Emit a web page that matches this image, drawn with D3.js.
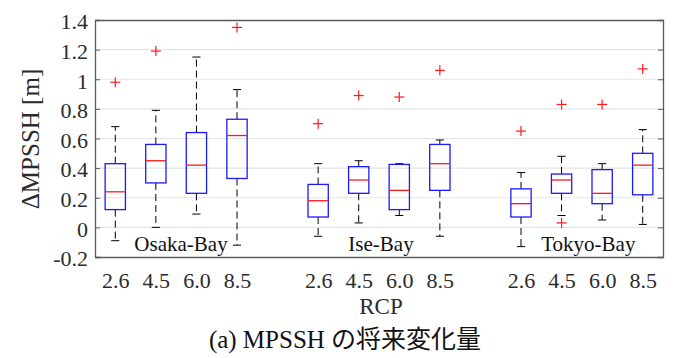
<!DOCTYPE html>
<html>
<head>
<meta charset="utf-8">
<script src="https://cdn.jsdelivr.net/npm/d3@7"></script>
<style>
  html, body { margin: 0; padding: 0; background: #fff; }
  svg { display: block; }
  svg text { font-family: "Liberation Serif", "Times New Roman", Tinos, "DejaVu Serif", "Noto Serif", "Noto Sans CJK JP", serif; }
</style>
</head>
<body>
<svg id="chart" width="674" height="358"></svg>
<script>
// RCP scenarios (x categories) and bays (groups)
const rcpLabels = ["2.6", "4.5", "6.0", "8.5"];
const bays = ["Osaka-Bay", "Ise-Bay", "Tokyo-Bay"];

// Box statistics per bay, one value per RCP scenario [m]
const lowerWhisker = [
  [-0.09, 0.00, 0.09, -0.12],
  [-0.06, 0.03, 0.08, -0.06],
  [-0.13, 0.08, 0.05, 0.02]
];
const q1 = [
  [0.12, 0.30, 0.23, 0.33],
  [0.07, 0.23, 0.12, 0.25],
  [0.07, 0.23, 0.16, 0.22]
];
const medians = [
  [0.24, 0.45, 0.42, 0.62],
  [0.18, 0.32, 0.25, 0.43],
  [0.16, 0.32, 0.23, 0.42]
];
const q3 = [
  [0.43, 0.56, 0.64, 0.73],
  [0.29, 0.41, 0.425, 0.56],
  [0.26, 0.36, 0.39, 0.50]
];
const upperWhisker = [
  [0.68, 0.79, 1.15, 0.93],
  [0.43, 0.45, 0.43, 0.59],
  [0.37, 0.48, 0.43, 0.66]
];
const outliers = [
  [[0.98], [1.19], [], [1.35]],
  [[0.70], [0.89], [0.88], [1.06]],
  [[0.65], [0.83, 0.03], [0.83], [1.07]]
];

// Axis ticks
const yTicks = [-0.2, 0, 0.2, 0.4, 0.6, 0.8, 1.0, 1.2, 1.4];
const yTickLabels = ["-0.2", "0", "0.2", "0.4", "0.6", "0.8", "1", "1.2", "1.4"];

// Group label anchors in data units (x position, y baseline)
const bayLabelX = [2.62, 7.55, 12.66];
const bayLabelY = -0.16;

const svg = d3.select("#chart");
const plot = { left: 95, right: 663, top: 20, bottom: 257 };

const x = d3.scaleLinear().domain([0.5, 14.5]).range([plot.left, plot.right]);
const y = d3.scaleLinear().domain([-0.2, 1.4]).range([plot.bottom, plot.top]);

const boxW = 0.5;    // box width in x units
const capW = 0.2;    // whisker cap width in x units

// flatten into one record per box
const boxes = [];
bays.forEach((bay, b) => {
  rcpLabels.forEach((rcp, i) => {
    boxes.push({
      pos: b * 5 + i + 1, label: rcp,
      lo: lowerWhisker[b][i], q1: q1[b][i], med: medians[b][i],
      q3: q3[b][i], hi: upperWhisker[b][i], out: outliers[b][i]
    });
  });
});

// horizontal grid
svg.append("g")
  .selectAll("line")
  .data(yTicks.filter(d => d > -0.2 && d < 1.4))
  .join("line")
  .attr("x1", plot.left).attr("x2", plot.right)
  .attr("y1", d => y(d)).attr("y2", d => y(d))
  .attr("stroke", "#e3e3e3").attr("stroke-width", 1.2);

// boxes
const g = svg.append("g");
const bx = g.selectAll("g.box").data(boxes).join("g").attr("class", "box");

// dashed whiskers
bx.append("line")
  .attr("x1", d => x(d.pos)).attr("x2", d => x(d.pos))
  .attr("y1", d => y(d.q3)).attr("y2", d => y(d.hi))
  .attr("stroke", "#000").attr("stroke-width", 1).attr("stroke-dasharray", "7,4");
bx.append("line")
  .attr("x1", d => x(d.pos)).attr("x2", d => x(d.pos))
  .attr("y1", d => y(d.q1)).attr("y2", d => y(d.lo))
  .attr("stroke", "#000").attr("stroke-width", 1).attr("stroke-dasharray", "7,4");

// whisker caps
["hi", "lo"].forEach(k => {
  bx.append("line")
    .attr("x1", d => x(d.pos - capW / 2)).attr("x2", d => x(d.pos + capW / 2))
    .attr("y1", d => y(d[k])).attr("y2", d => y(d[k]))
    .attr("stroke", "#000").attr("stroke-width", 1);
});

// box body
bx.append("rect")
  .attr("x", d => x(d.pos - boxW / 2))
  .attr("width", d => x(d.pos + boxW / 2) - x(d.pos - boxW / 2))
  .attr("y", d => y(d.q3))
  .attr("height", d => y(d.q1) - y(d.q3))
  .attr("fill", "none").attr("stroke", "#1a1aff").attr("stroke-width", 1.3);

// median
bx.append("line")
  .attr("x1", d => x(d.pos - boxW / 2)).attr("x2", d => x(d.pos + boxW / 2))
  .attr("y1", d => y(d.med)).attr("y2", d => y(d.med))
  .attr("stroke", "#ff1a1a").attr("stroke-width", 1.3);

// outliers as red plus markers
const outs = boxes.flatMap(d => d.out.map(v => ({ pos: d.pos, v })));
const plus = g.selectAll("g.out").data(outs).join("g").attr("class", "out")
  .attr("transform", d => `translate(${x(d.pos)},${y(d.v)})`);
plus.append("line").attr("x1", -5).attr("x2", 5).attr("y1", 0).attr("y2", 0)
  .attr("stroke", "#ff1a1a").attr("stroke-width", 1.2);
plus.append("line").attr("x1", 0).attr("x2", 0).attr("y1", -5).attr("y2", 5)
  .attr("stroke", "#ff1a1a").attr("stroke-width", 1.2);

// axes
const axisColor = "#5a5a5a";
const axLeft = svg.append("g").attr("transform", `translate(${plot.left},0)`)
  .call(d3.axisLeft(y).tickValues(yTicks).tickSize(-5).tickPadding(7)
    .tickFormat((d, i) => yTickLabels[i]));
const axRight = svg.append("g").attr("transform", `translate(${plot.right},0)`)
  .call(d3.axisRight(y).tickValues(yTicks).tickSize(-5).tickFormat(""));
const axBottom = svg.append("g").attr("transform", `translate(0,${plot.bottom})`)
  .call(d3.axisBottom(x).tickValues(boxes.map(d => d.pos)).tickSize(0).tickPadding(15)
    .tickFormat((d, i) => boxes[i].label));
const axTop = svg.append("g").attr("transform", `translate(0,${plot.top})`)
  .call(d3.axisTop(x).tickValues([]).tickSize(0));

[axLeft, axRight, axBottom, axTop].forEach(a => {
  a.attr("font-family", null).attr("font-size", null);
  a.select(".domain").attr("stroke", axisColor).attr("stroke-width", 1.3);
  a.selectAll(".tick line").attr("stroke", axisColor);
  a.selectAll("text").attr("fill", "#2b2b2b").style("font-size", "22px");
});
axLeft.selectAll("text").attr("dy", "0.4em");

// bay labels
svg.append("g").selectAll("text").data(bays).join("text")
  .attr("x", (d, i) => x(bayLabelX[i])).attr("y", y(bayLabelY))
  .attr("text-anchor", "middle").attr("fill", "#111")
  .style("font-size", "21px").text(d => d);

// axis titles
svg.append("text")
  .attr("x", (plot.left + plot.right) / 2 + 2).attr("y", 314)
  .attr("text-anchor", "middle").attr("fill", "#2b2b2b")
  .style("font-size", "23px").text("RCP");

svg.append("text")
  .attr("transform", "translate(39,139) rotate(-90)")
  .attr("text-anchor", "middle").attr("fill", "#2b2b2b")
  .style("font-size", "25px").text("ΔMPSSH [m]");

// caption
svg.append("text")
  .attr("x", 345).attr("y", 348)
  .attr("text-anchor", "middle").attr("fill", "#111")
  .style("font-size", "25px").text("(a) MPSSH の将来変化量");
</script>
</body>
</html>
